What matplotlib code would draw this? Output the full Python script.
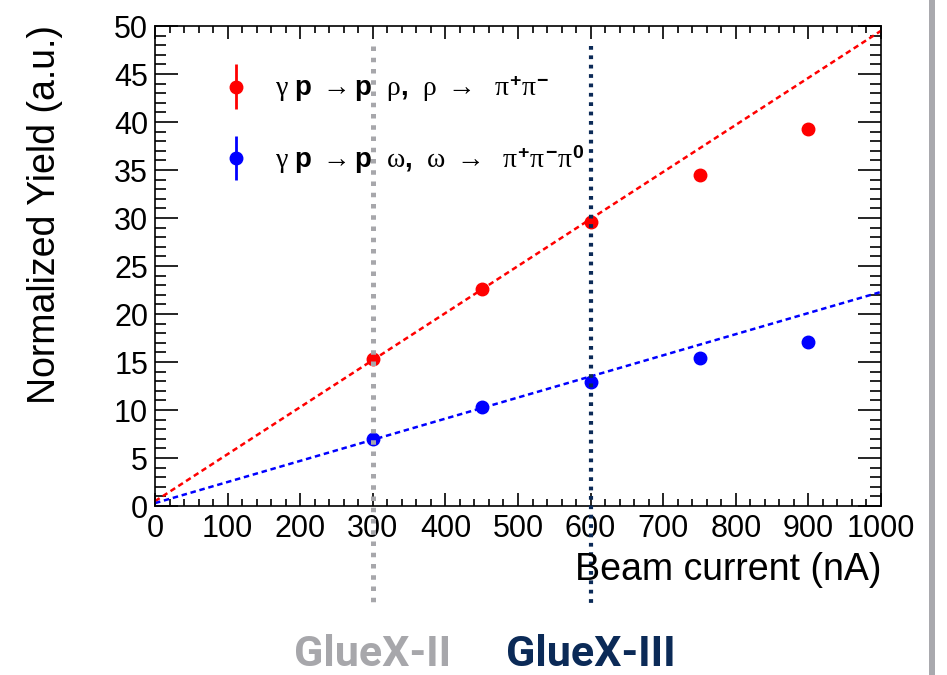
import matplotlib
matplotlib.use("Agg")
import matplotlib.pyplot as plt
import numpy as np
from matplotlib.patches import Rectangle
from matplotlib.container import ErrorbarContainer
from matplotlib.legend_handler import HandlerErrorbar

plt.rcParams.update({
    'font.family': ['Liberation Sans', 'DejaVu Sans'],
    'mathtext.fontset': 'custom',
    'mathtext.rm': 'Liberation Serif',
    'mathtext.it': 'Liberation Serif',
    'mathtext.bf': 'Liberation Sans:bold',
})

# measured yields vs beam current
beam_current = np.array([300, 450, 600, 750, 900])
rho_yield = np.array([15.3, 22.6, 29.6, 34.5, 39.3])
rho_err = np.array([0.3, 0.3, 0.3, 0.4, 0.4])
omega_yield = np.array([7.0, 10.3, 12.95, 15.4, 17.05])
omega_err = np.array([0.3, 0.3, 0.3, 0.6, 0.4])

# linear extrapolations (intercept, slope)
rho_fit = (0.5, 0.049)
omega_fit = (0.3, 0.022)

phases = ['GlueX-II', 'GlueX-III']
phase_current = [300, 600]
phase_colors = ['#a7a7ab', '#0b2a57']

rho_label = (r'$\gamma\ \mathbf{p}\ \rightarrow\mathbf{p}\ \ \rho\mathbf{,}\ \ \rho\ \rightarrow\ \ '
             r'\pi^{\mathbf{+}}\pi^{\mathbf{-}}$')
omega_label = (r'$\gamma\ \mathbf{p}\ \rightarrow\mathbf{p}\ \ \omega\mathbf{,}\ \ \omega\ \rightarrow\ \ '
               r'\pi^{\mathbf{+}}\pi^{\mathbf{-}}\pi^{\mathbf{0}}$')

fig = plt.figure(figsize=(9.47, 6.75), dpi=100)
ax = fig.add_axes([155 / 947, 1 - 506 / 675, 726 / 947, 480 / 675])

xx = np.linspace(0, 1000, 2)
ax.plot(xx, rho_fit[0] + rho_fit[1] * xx, color='red', lw=1.8,
        linestyle=(0, (2.2, 1.5)), zorder=2)
ax.plot(xx, omega_fit[0] + omega_fit[1] * xx, color='blue', lw=1.8,
        linestyle=(0, (2.2, 1.5)), zorder=2)

ax.errorbar(beam_current, rho_yield, yerr=rho_err, fmt='o', color='red',
            ms=9, elinewidth=2, capsize=0, zorder=3, label=rho_label)
ax.errorbar(beam_current, omega_yield, yerr=omega_err, fmt='o', color='blue',
            ms=9, elinewidth=2, capsize=0, zorder=3, label=omega_label)

# phase markers, extended below the axes
for cur, col, lw in zip(phase_current, phase_colors, [3.6, 3.0]):
    ax.plot([cur, cur], [47.9, -10.3], color=col, lw=lw,
            linestyle=(0, (0.9, 1.35)), clip_on=False, zorder=5)

ax.set_xlim(0, 1000)
ax.set_ylim(0, 50)
ax.set_xticks(np.arange(0, 1001, 100))
ax.set_yticks(np.arange(0, 51, 5))
ax.set_xticks(np.arange(0, 1001, 20), minor=True)
ax.set_yticks(np.arange(0, 51, 1), minor=True)
ax.tick_params(axis='both', which='both', direction='in', top=True, right=True,
               labelsize=22, width=1.2)
ax.tick_params(axis='x', which='major', length=9.5, pad=6)
ax.tick_params(axis='x', which='minor', length=5)
ax.tick_params(axis='y', which='major', length=16.5, pad=5)
ax.tick_params(axis='y', which='minor', length=8)
for s in ax.spines.values():
    s.set_linewidth(1.2)

fig.text(881 / 947, 1 - 580 / 675, 'Beam current (nA)', ha='right',
         va='baseline', fontsize=27)
fig.text(45 / 947, 1 - 25 / 675, 'Normalized Yield (a.u.)', rotation=90,
         ha='center', va='top', fontsize=27)

leg = ax.legend(loc='upper left', bbox_to_anchor=(0.077, 0.929), frameon=False,
                fontsize=20, handlelength=0.8, handletextpad=1.0,
                labelspacing=1.4, borderpad=0,
                handler_map={ErrorbarContainer: HandlerErrorbar(yerr_size=0.8)})

for name, cur, col in zip(phases, phase_current, phase_colors):
    ax.text(cur, -15.5, name, color=col, ha='center', va='center',
            fontsize=31, fontweight='bold', family=['Roboto', 'DejaVu Sans'],
            transform=ax.transData, clip_on=False)

fig.add_artist(Rectangle((929 / 947, 0), 6 / 947, 1, transform=fig.transFigure,
                         color='#a9a9ae', lw=0))

fig.savefig('out.png', dpi=100)
